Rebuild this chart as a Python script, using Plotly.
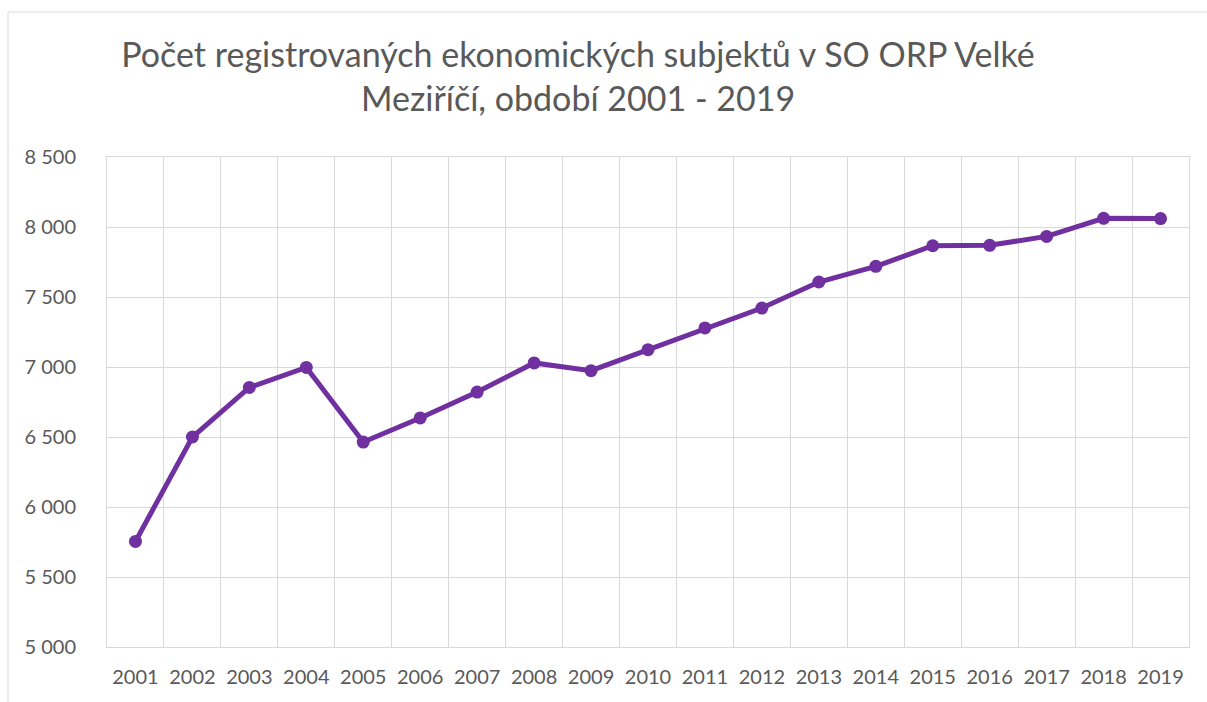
import plotly.graph_objects as go

# Registered economic entities, SO ORP Velké Meziříčí
years = [2001, 2002, 2003, 2004, 2005, 2006, 2007, 2008, 2009, 2010,
         2011, 2012, 2013, 2014, 2015, 2016, 2017, 2018, 2019]
entities = [5754, 6500, 6854, 6997, 6464, 6636, 6821, 7029, 6974, 7124,
            7279, 7421, 7607, 7719, 7866, 7869, 7933, 8062, 8060]
y_ticks = [5000, 5500, 6000, 6500, 7000, 7500, 8000, 8500]

title_text = ("Počet registrovaných ekonomických subjektů v SO ORP Velké<br>"
              "Meziříčí, období 2001 - 2019")

W, H = 1207, 702
L, R, T, B = 107, 18, 157, 55
pw, ph = W - L - R, H - T - B

grid = "#D9D9D9"
text_col = "#595959"
purple = "#7030A0"
font_family = "Lato, 'Open Sans', sans-serif"

fig = go.Figure(go.Scatter(
    x=years, y=entities, mode="lines+markers",
    line=dict(color=purple, width=5),
    marker=dict(color=purple, size=13),
    showlegend=False,
))

fig.update_layout(
    width=W, height=H,
    margin=dict(l=L, r=R, t=T, b=B),
    paper_bgcolor="white", plot_bgcolor="white",
    separators=", ",
    font=dict(family=font_family, color=text_col, size=20),
    title=dict(
        text=title_text,
        x=578 / W, xanchor="center", xref="container",
        y=1 - 67 / H, yanchor="top", yref="container",
        font=dict(size=34, color=text_col, family=font_family),
    ),
    xaxis=dict(
        range=[years[0] - 0.5, years[-1] + 0.5],
        tickmode="array", tickvals=years, ticktext=[str(y) for y in years],
        showgrid=False, zeroline=False,
        showline=True, linecolor=grid, linewidth=1, mirror=True,
        ticks="", ticklabelstandoff=12,
        minor=dict(showgrid=True, gridcolor=grid, gridwidth=1,
                   tick0=years[0] - 0.5, dtick=1),
        tickfont=dict(size=20, color=text_col),
    ),
    yaxis=dict(
        range=[y_ticks[0], y_ticks[-1]],
        tickmode="array", tickvals=y_ticks,
        tickformat=",d",
        showgrid=True, gridcolor=grid, gridwidth=1, zeroline=False,
        showline=True, linecolor=grid, linewidth=1, mirror=True,
        ticks="", ticklabelstandoff=26,
        tickfont=dict(size=20, color=text_col),
    ),
    shapes=[dict(
        type="rect", xref="paper", yref="paper",
        x0=(8 - L) / pw, x1=(W + 10 - L) / pw,
        y0=(H - B - (H + 10)) / ph, y1=(H - B - 12) / ph,
        line=dict(color=grid, width=1), fillcolor="rgba(0,0,0,0)",
        layer="below",
    )],
)

fig.write_html("out.html")
